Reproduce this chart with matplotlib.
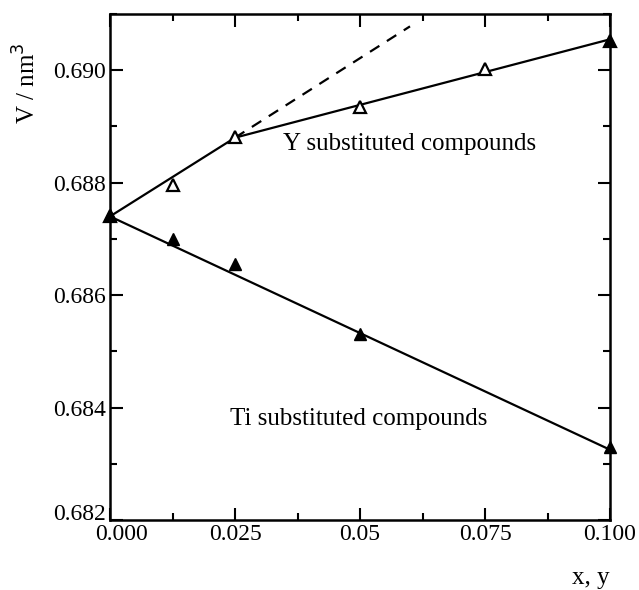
import numpy as np
import matplotlib
matplotlib.use("Agg")
from matplotlib import pyplot as plt
from matplotlib import transforms
from matplotlib.ticker import FixedLocator, FixedFormatter, MultipleLocator

# data
Y_x = [0.0, 0.0125, 0.025, 0.05, 0.075, 0.1]
Y_v = [0.6874, 0.68796, 0.68882, 0.68934, 0.69002, 0.69052]
Y_filled = [True, False, False, False, False, True]
Y_line_x = [0.0, 0.025, 0.1]
Y_line_v = [0.6874, 0.6888, 0.69055]
Dash_x = [0.025, 0.06]
Dash_v = [0.6888, 0.69078]

Ti_x = [0.0, 0.0125, 0.025, 0.05, 0.1]
Ti_v = [0.68743, 0.68700, 0.68655, 0.68531, 0.68329]
Ti_line_x = [0.0, 0.1]
Ti_line_v = [0.6874, 0.68325]

X_ticks = [0.0, 0.025, 0.05, 0.075, 0.1]
X_labels = ['0.000', '0.025', '0.05', '0.075', '0.100']
Y_ticks = [0.682, 0.684, 0.686, 0.688, 0.690]
Y_labels = ['0.682', '0.684', '0.686', '0.688', '0.690']

plt.rcParams['font.family'] = ['Liberation Serif', 'DejaVu Serif']
Fs = 17
Fs_Text = 18

Fig = plt.figure(figsize=(6.39, 5.9), dpi=100)
Ax = Fig.add_axes([110/639, 1-520/590, 500/639, 506/590])

Ax.plot(Y_line_x, Y_line_v, color='black', lw=1.6, zorder=2)
Ax.plot(Dash_x, Dash_v, color='black', lw=1.6, ls=(0, (5, 4)), zorder=2)
Ax.plot(Ti_line_x, Ti_line_v, color='black', lw=1.6, zorder=2)

for u in range(len(Y_x)):
    Ax.plot(Y_x[u], Y_v[u], marker='^', ms=8, mew=1.6, color='black',
            mfc='black' if Y_filled[u] else 'white', clip_on=False, zorder=3)
Ax.plot(Ti_x, Ti_v, ls='none', marker='^', ms=8, color='black', clip_on=False, zorder=3)

Ax.set_xlim(0.0, 0.1)
Ax.set_ylim(0.682, 0.691)
Ax.xaxis.set_major_locator(FixedLocator(X_ticks))
Ax.xaxis.set_major_formatter(FixedFormatter(X_labels))
Ax.xaxis.set_minor_locator(MultipleLocator(0.0125))
Ax.yaxis.set_major_locator(FixedLocator(Y_ticks))
Ax.yaxis.set_major_formatter(FixedFormatter(Y_labels))
Ax.yaxis.set_minor_locator(MultipleLocator(0.001))

Ax.tick_params(which='both', direction='in', top=True, right=True, width=1.5, labelsize=Fs, pad=3)
Ax.tick_params(which='major', length=9)
Ax.tick_params(which='minor', length=5)
for s in Ax.spines.values():
    s.set_linewidth(1.8)

# nudge the corner labels apart like the original
Fig.canvas.draw()
Ax.get_xticklabels()[0].set_transform(Ax.get_xticklabels()[0].get_transform()
                                      + transforms.ScaledTranslation(12/100, 0, Fig.dpi_scale_trans))
Ax.get_yticklabels()[0].set_transform(Ax.get_yticklabels()[0].get_transform()
                                      + transforms.ScaledTranslation(0, 8/100, Fig.dpi_scale_trans))

Ax.text(0.060, 0.68868, 'Y substituted compounds', fontsize=Fs_Text, ha='center', va='center')
Ax.text(0.0498, 0.6838, 'Ti substituted compounds', fontsize=Fs_Text, ha='center', va='center')

Fig.text(27/639, 1-83/590, 'V / nm$^3$', rotation=90, fontsize=Fs_Text, ha='center', va='center')
Fig.text(610/639, 1-578/590, 'x, y', fontsize=Fs_Text, ha='right', va='center')

Fig.savefig('out.png', dpi=100)
